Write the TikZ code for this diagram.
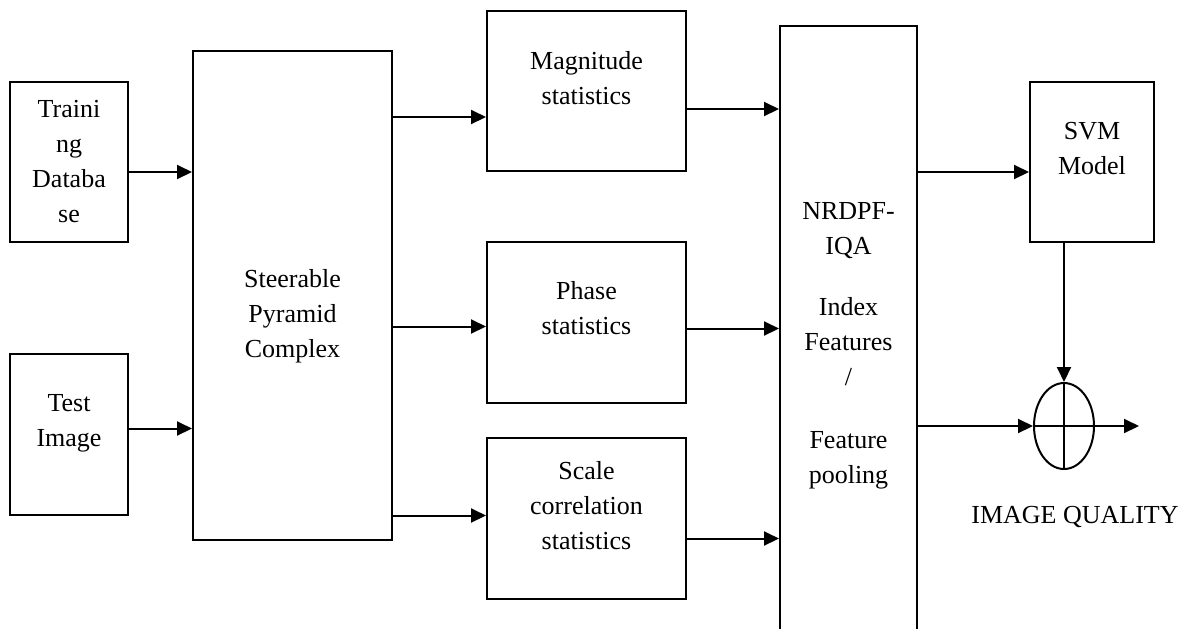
\documentclass[tikz,border=0pt]{standalone}
\usepackage{fontspec}
\setmainfont{Liberation Serif}
\usetikzlibrary{positioning, arrows.meta, calc, shapes.geometric}

\begin{document}
\begin{tikzpicture}[
  x=0.5pt, y=-0.5pt,
  font=\fontsize{13}{17.5}\selectfont,
  block/.style={draw=black, line width=1pt, align=center, inner sep=0pt},
  flow/.style={-{Triangle[length=7.5pt, width=7pt]}, line width=1pt, draw=black}
]
\clip (0,0) rectangle (1193,628);

% inputs on the left
\node[block, minimum width=59pt, minimum height=80pt]   (train) at (69,162)   {Traini\\ng\\Databa\\se};
\node[block, minimum width=59pt, minimum height=80.5pt] (test)  at (69,434.5) {Test\\Image\\[-3pt]\mbox{}};

% decomposition and the three statistics
\node[block, minimum width=99.5pt, minimum height=244.5pt] (steer) at (292.5,295.5) {\strut\\Steerable\\Pyramid\\Complex};
\node[block, minimum width=99.5pt, minimum height=80pt]   (mag)   at (586.5,91)    {Magnitude\\statistics\\[-4pt]\mbox{}};
\node[block, minimum width=99.5pt, minimum height=80.5pt] (phase) at (586.5,322.5) {Phase\\statistics\\[-3pt]\mbox{}};
\node[block, minimum width=99.5pt, minimum height=80.5pt] (scale) at (586.5,518.5) {Scale\\correlation\\statistics\\[-4pt]\mbox{}};

% pooled features, model and the sum
\node[block, minimum width=68.5pt, minimum height=320pt] (pool) at (848.5,346)
  {NRDPF-\\IQA\\[13pt]Index\\Features\\/\\[14pt]Feature\\pooling};
\node[block, minimum width=62pt, minimum height=80pt] (svm) at (1092,162) {SVM\\Model\\[-4pt]\mbox{}};
\node[draw=black, line width=1pt, ellipse, inner sep=0pt, minimum width=30pt, minimum height=43pt] (sum) at (1064,426) {};
\draw[line width=1pt] (sum.north) -- (sum.south);
\draw[line width=1pt] (sum.west) -- (sum.east);
\coordinate (out) at (1139,426);
\node (quality) at (1075,517) {IMAGE QUALITY};

\draw[flow] ([yshift=-5pt]train.east) -- ([yshift=-5pt]train.east -| steer.west);
\draw[flow] ([yshift=3pt]test.east) -- ([yshift=3pt]test.east -| steer.west);

\draw[flow] ([yshift=-13pt]mag.west -| steer.east) -- ([yshift=-13pt]mag.west);
\draw[flow] ([yshift=-2pt]phase.west -| steer.east) -- ([yshift=-2pt]phase.west);
\draw[flow] ([yshift=1.5pt]scale.west -| steer.east) -- ([yshift=1.5pt]scale.west);

\draw[flow] ([yshift=-9pt]mag.east) -- ([yshift=-9pt]mag.east -| pool.west);
\draw[flow] ([yshift=-3pt]phase.east) -- ([yshift=-3pt]phase.east -| pool.west);
\draw[flow] ([yshift=-10pt]scale.east) -- ([yshift=-10pt]scale.east -| pool.west);

\draw[flow] ([yshift=-5pt]svm.west -| pool.east) -- ([yshift=-5pt]svm.west);
\draw[flow] (sum.north |- svm.south) -- (sum.north);
\draw[flow] (sum.west -| pool.east) -- (sum.west);
\draw[flow] (sum.east) -- (out);

\end{tikzpicture}
\end{document}
